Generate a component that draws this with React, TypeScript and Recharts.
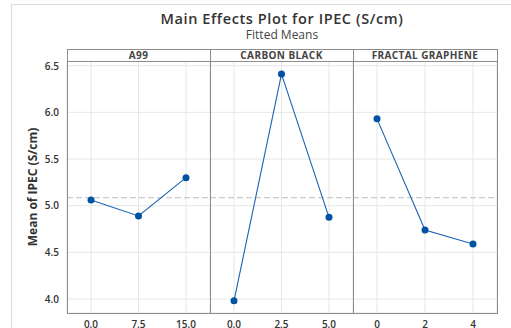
import React from 'react';
import { LineChart, Line, XAxis, YAxis, CartesianGrid, ReferenceLine } from 'recharts';

// fitted means per factor level
const a99Levels = ['0.0', '7.5', '15.0'];
const a99Means = [5.06, 4.89, 5.3];
const carbonLevels = ['0.0', '2.5', '5.0'];
const carbonMeans = [3.98, 6.41, 4.875];
const grapheneLevels = ['0', '2', '4'];
const grapheneMeans = [5.93, 4.74, 4.59];
const overallMean = 5.085;
const yTicks = [4.0, 4.5, 5.0, 5.5, 6.0, 6.5];
const yDomain = [3.85, 6.55];

const FONT = '"Open Sans", "Noto Sans", sans-serif';
const LINE = '#1a62b3';
const DOT = '#0052a3';
const BORDER = '#8c8c8c';

const toRows = (levels: string[], means: number[]) =>
  levels.map((level, i) => ({ level, mean: means[i] }));

function Panel({ levels, means, left, width, showY }: {
  levels: string[]; means: number[]; left: number; width: number; showY?: boolean;
}) {
  const data = toRows(levels, means);
  return (
    <div style={{ position: 'absolute', left, top: 61 }}>
      <LineChart width={width} height={267} data={data} margin={{ top: 0, right: 0, bottom: 0, left: 0 }}>
        <CartesianGrid stroke="#e6e6e6" strokeWidth={1} />
        <XAxis
          dataKey="level"
          axisLine={false}
          tickLine={false}
          height={15}
          padding={{ left: 24, right: 24 }}
          interval={0}
          tick={{ fill: '#333', fontSize: 10, fontWeight: 600, fontFamily: FONT }}
        />
        <YAxis
          domain={yDomain}
          ticks={yTicks}
          hide={!showY}
          width={30}
          axisLine={false}
          tickLine={false}
          allowDataOverflow
          tickFormatter={(v: number) => v.toFixed(1)}
          tick={{ fill: '#333', fontSize: 10, fontWeight: 600, fontFamily: FONT }}
        />
        <ReferenceLine y={overallMean} stroke="#bdbdbd" strokeDasharray="6 3" strokeWidth={1.2} />
        <Line
          dataKey="mean"
          stroke={LINE}
          strokeWidth={1.1}
          dot={{ r: 3.5, fill: DOT, stroke: DOT, strokeWidth: 0 }}
          isAnimationActive={false}
        />
      </LineChart>
    </div>
  );
}

const stripText: React.CSSProperties = {
  position: 'absolute', top: 49, height: 12, lineHeight: '12px', textAlign: 'center',
  fontFamily: FONT, fontSize: 10, fontWeight: 700, color: '#444', letterSpacing: 0.4,
};

export default function App() {
  return (
    <div style={{ position: 'absolute', left: 0, top: 0, width: 511, height: 328, background: '#fff', overflow: 'hidden', fontFamily: FONT }}>
      {/* outer frame */}
      <div style={{ position: 'absolute', left: 11, top: 4, width: 520, height: 340, border: '1px solid #dcdcdc' }} />

      <div style={{ position: 'absolute', left: 0, width: 564, top: 10, height: 17, lineHeight: '17px', textAlign: 'center', fontSize: 14.5, fontWeight: 600, color: '#333', letterSpacing: 0.6 }}>
        Main Effects Plot for IPEC (S/cm)
      </div>
      <div style={{ position: 'absolute', left: 0, width: 564, top: 28, height: 13, lineHeight: '13px', textAlign: 'center', fontSize: 12, color: '#444' }}>
        Fitted Means
      </div>

      <div style={{ position: 'absolute', left: 33, top: 187, transform: 'translate(-50%, -50%) rotate(-90deg)', whiteSpace: 'nowrap', lineHeight: '14px', fontSize: 12, fontWeight: 700, color: '#333' }}>
        Mean of IPEC (S/cm)
      </div>

      <Panel levels={a99Levels} means={a99Means} left={37} width={173} showY />
      <Panel levels={carbonLevels} means={carbonMeans} left={210} width={143} />
      <Panel levels={grapheneLevels} means={grapheneMeans} left={353} width={144} />

      {/* panel frame + strips */}
      <div style={{ position: 'absolute', left: 67, top: 49, width: 429, height: 263, border: `1px solid ${BORDER}`, pointerEvents: 'none' }} />
      <div style={{ position: 'absolute', left: 67, top: 61, width: 431, height: 1, background: BORDER }} />
      <div style={{ position: 'absolute', left: 210, top: 49, width: 1, height: 265, background: BORDER }} />
      <div style={{ position: 'absolute', left: 353, top: 49, width: 1, height: 265, background: BORDER }} />

      <div style={{ ...stripText, left: 67, width: 143 }}>A99</div>
      <div style={{ ...stripText, left: 210, width: 143 }}>CARBON BLACK</div>
      <div style={{ ...stripText, left: 353, width: 144 }}>FRACTAL GRAPHENE</div>
    </div>
  );
}
